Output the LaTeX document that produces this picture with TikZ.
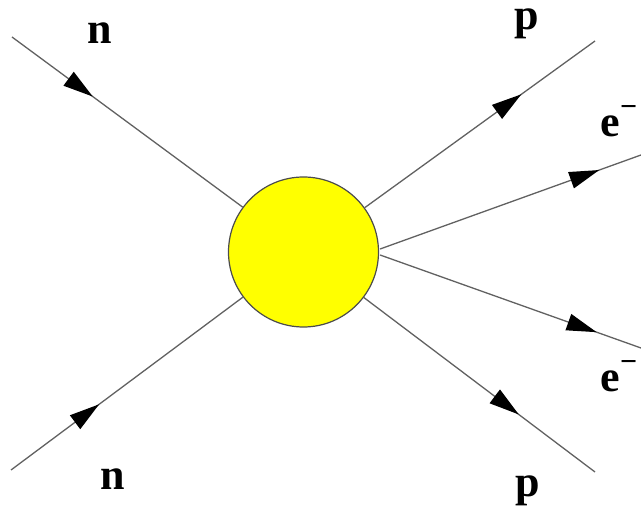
\documentclass[tikz,border=0pt]{standalone}
\usepackage{fontspec}
\setmainfont{Liberation Serif}
\usetikzlibrary{arrows.meta,decorations.markings,calc}
\definecolor{blobyellow}{RGB}{255,255,0}
\tikzset{
  leg/.style={draw=black!62, line width=1.3pt},
  arr/.style={postaction={decorate}, decoration={markings,
     mark=at position #1 with {\arrow[black]{Triangle[length=30pt,width=17pt]}}}},
  lbl/.style={font=\fontsize{44}{50}\selectfont\bfseries, inner sep=0pt, anchor=base},
  blob/.style={circle, draw=black!70, line width=1.2pt, fill=blobyellow, minimum size=150pt, inner sep=0pt}
}
\begin{document}
\begin{tikzpicture}[x=1pt,y=1pt]
\useasboundingbox (0,0) rectangle (641,509);
\node[blob] (c) at (303.5,257) {};
\coordinate (n1) at (12,472);
\coordinate (n2) at (11,39);
\coordinate (p1) at (595,468);
\coordinate (p2) at (595,37);
\coordinate (e1) at (641,354);
\coordinate (e2) at (641,161);
\coordinate (ce1) at ($(c.east)+(1,3)$);
\coordinate (ce2) at ($(c.east)+(1,-3)$);
\draw[leg, arr=0.35] (n1) -- (c);
\draw[leg, arr=0.38] (n2) -- (c);
\draw[leg, arr=0.68] (c) -- (p1);
\draw[leg, arr=0.67] (c) -- (p2);
\draw[leg, arr=0.84] (ce1) -- (e1);
\draw[leg, arr=0.83] (ce2) -- (e2);
\node[lbl] (ln1) at (100,465) {n};
\node[lbl] (ln2) at (113,19) {n};
\node[lbl] (lp1) at (527,479) {p};
\node[lbl] (lp2) at (528,12) {p};
\node[lbl] (le1) at (619,372) {e\raisebox{20pt}{\fontsize{30}{30}\selectfont −}};
\node[lbl] (le2) at (619,117) {e\raisebox{20pt}{\fontsize{30}{30}\selectfont −}};
\end{tikzpicture}
\end{document}
